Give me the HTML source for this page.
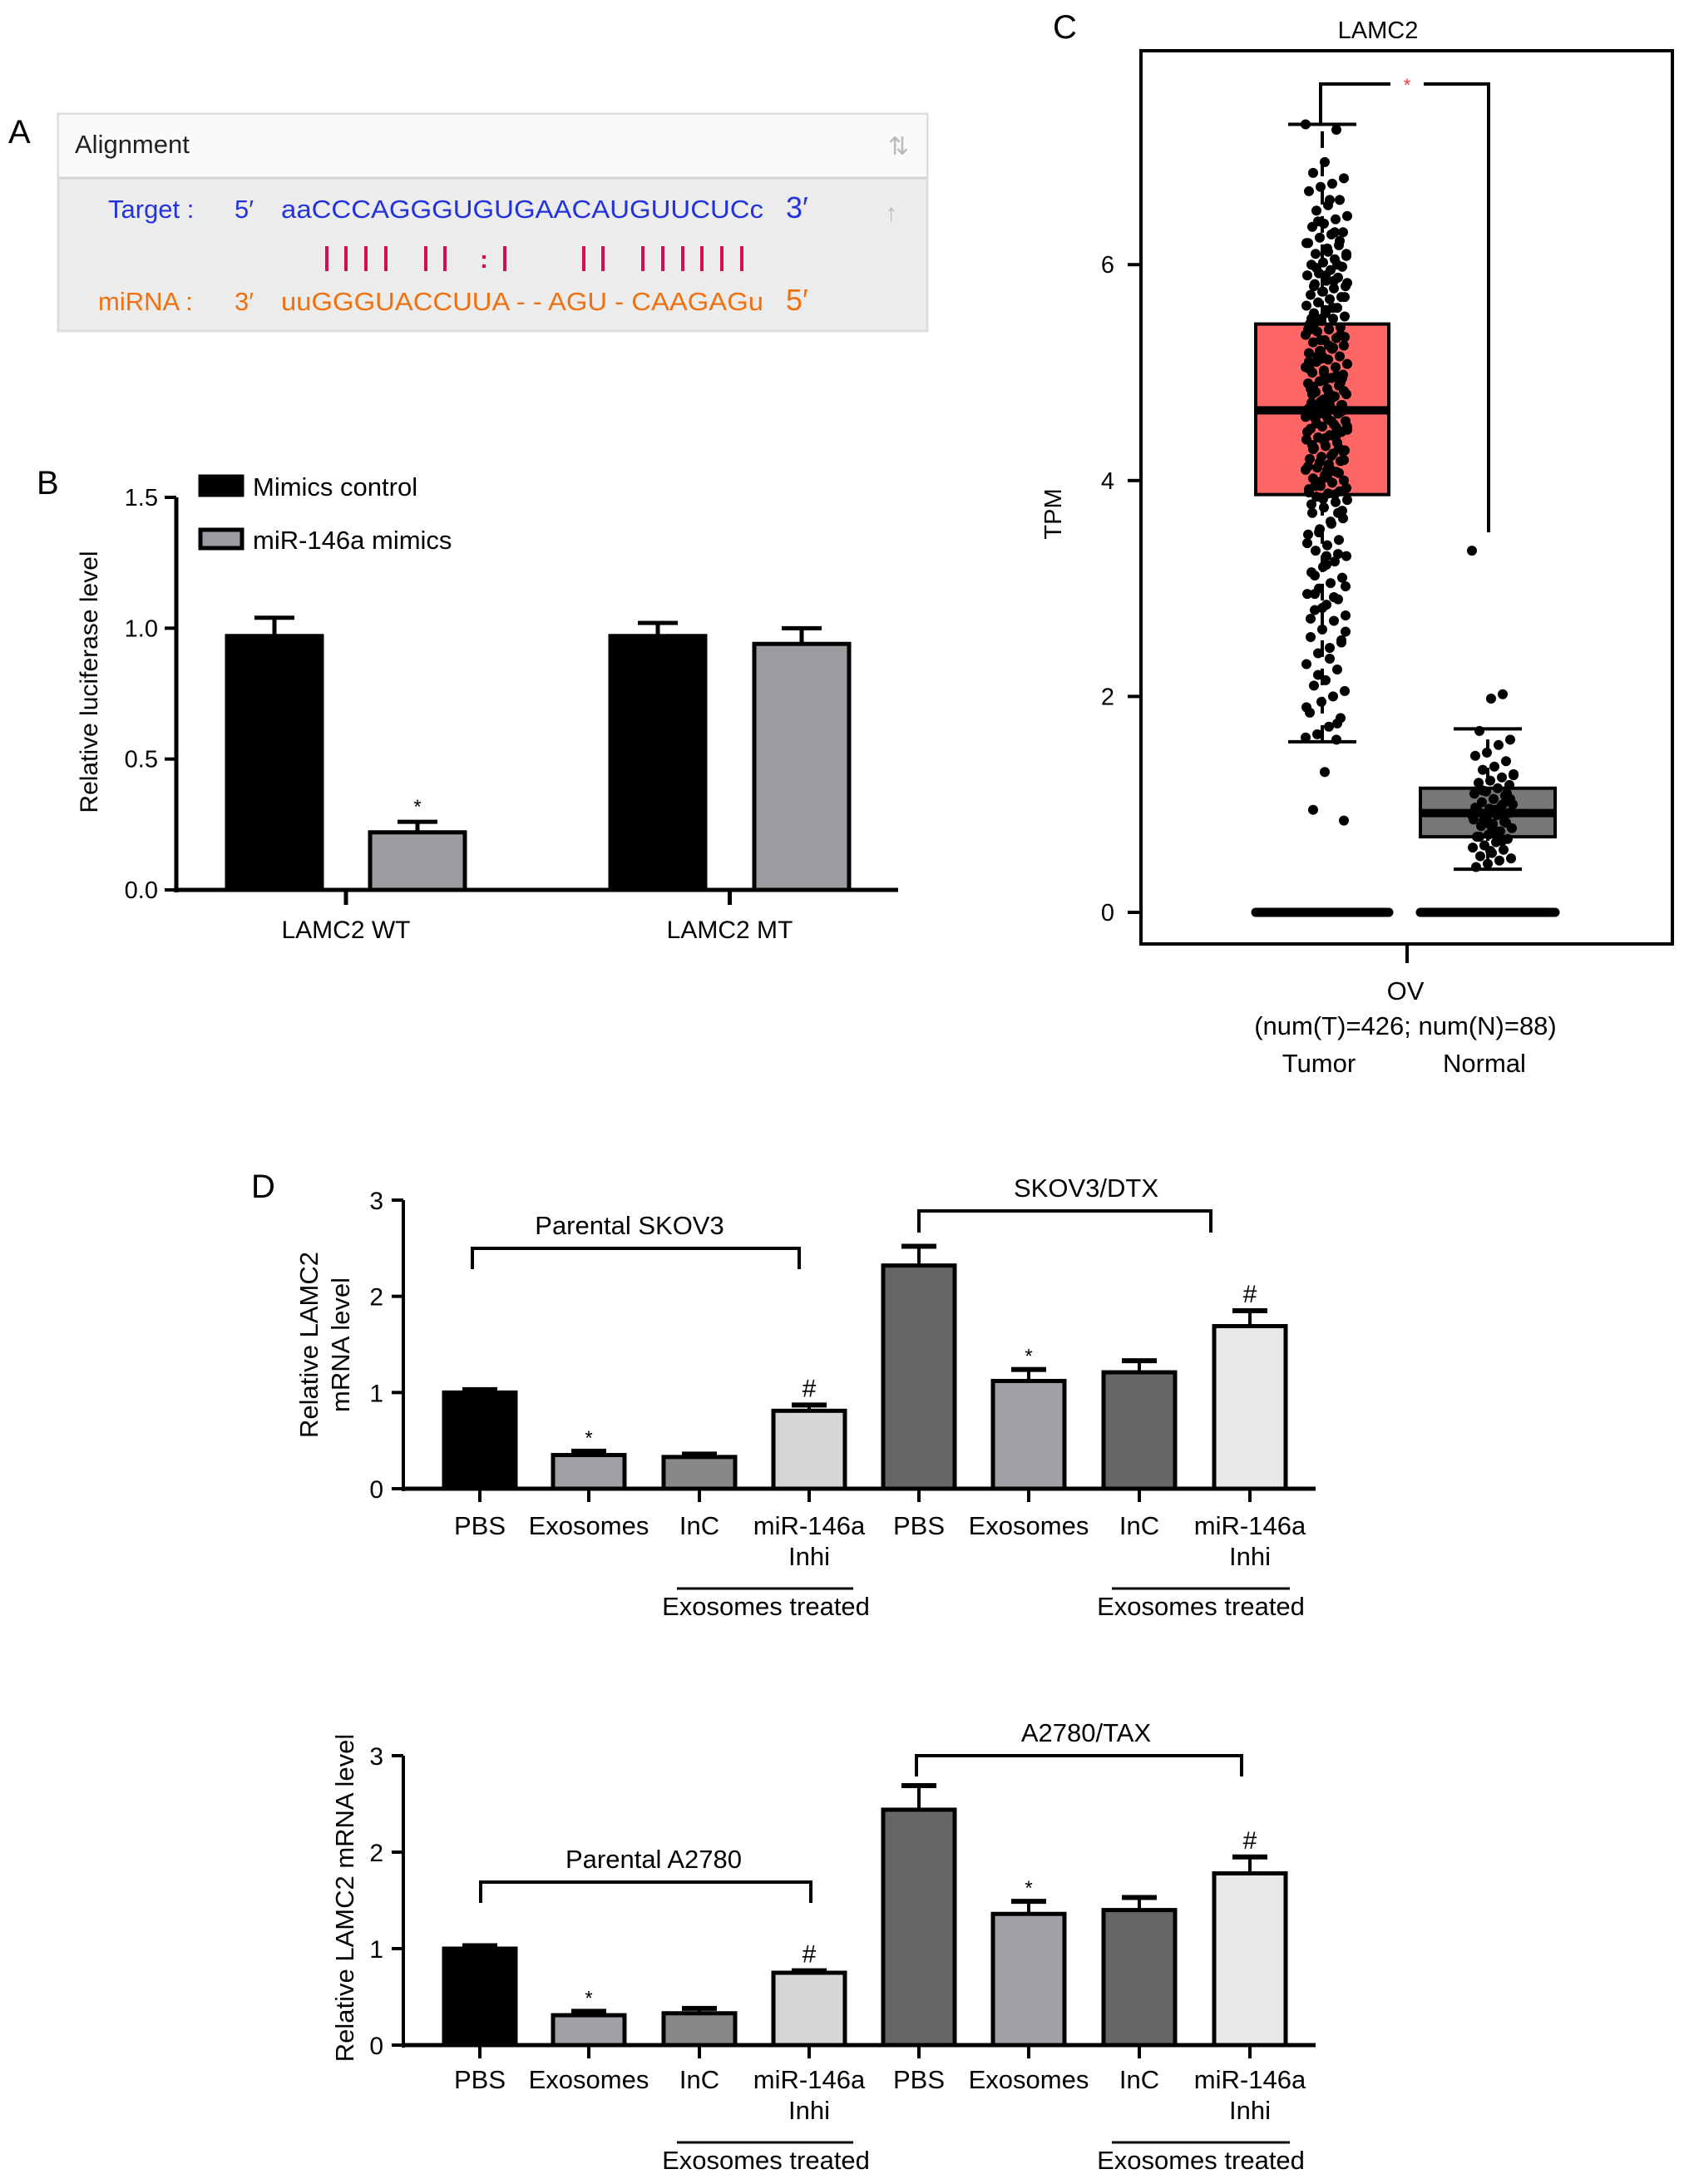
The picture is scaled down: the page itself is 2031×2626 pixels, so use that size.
<!DOCTYPE html>
<html><head><meta charset="utf-8"><style>
html,body{margin:0;padding:0;background:#fff;}
svg{display:block;font-family:"Liberation Sans",Arial,sans-serif;}
</style></head><body>
<svg id="fig" width="2031" height="2626" viewBox="0 0 2031 2626" xmlns="http://www.w3.org/2000/svg">
<g>
<text x="10" y="172" font-size="40">A</text>
<rect x="70" y="137" width="1045" height="261" fill="#ececec" stroke="#dcdcdc" stroke-width="3"/>
<rect x="71" y="138" width="1043" height="76" fill="#fafafa"/>
<line x1="71" y1="214" x2="1114" y2="214" stroke="#d4d4d4" stroke-width="3"/>
<text x="90" y="184" font-size="31" fill="#222">Alignment</text>
<text x="1068" y="186" font-size="30" fill="#bbb">⇅</text>
<text x="1064" y="266" font-size="30" fill="#bbb">↑</text>
<text x="130" y="262" font-size="31" fill="#2233dd">Target :</text>
<text x="282" y="262" font-size="31" fill="#2233dd">5′</text>
<text x="338" y="262" font-size="31" fill="#2233dd" textLength="580" lengthAdjust="spacingAndGlyphs">aaCCCAGGGUGUGAACAUGUUCUCc</text>
<text x="945" y="262" font-size="36" fill="#2233dd">3′</text>
<g stroke="#d0104a" stroke-width="4">
<line x1="393" y1="296" x2="393" y2="326"/><line x1="416" y1="296" x2="416" y2="326"/><line x1="440" y1="296" x2="440" y2="326"/><line x1="464" y1="296" x2="464" y2="326"/>
<line x1="512" y1="296" x2="512" y2="326"/><line x1="535" y1="296" x2="535" y2="326"/><line x1="607" y1="296" x2="607" y2="326"/>
<line x1="702" y1="296" x2="702" y2="326"/><line x1="725" y1="296" x2="725" y2="326"/>
<line x1="773" y1="296" x2="773" y2="326"/><line x1="797" y1="296" x2="797" y2="326"/><line x1="821" y1="296" x2="821" y2="326"/><line x1="844" y1="296" x2="844" y2="326"/><line x1="868" y1="296" x2="868" y2="326"/><line x1="892" y1="296" x2="892" y2="326"/>
</g>
<text x="577" y="322" font-size="30" fill="#d0104a" font-weight="bold">:</text>
<text x="118" y="373" font-size="31" fill="#f07010">miRNA :</text>
<text x="282" y="373" font-size="31" fill="#f07010">3′</text>
<text x="338" y="373" font-size="31" fill="#f07010" textLength="580" lengthAdjust="spacingAndGlyphs">uuGGGUACCUUA - - AGU - CAAGAGu</text>
<text x="945" y="373" font-size="36" fill="#f07010">5′</text>
</g>
<g id="pb"></g>
<g id="pc"></g>
<g id="pd1"></g>
<g id="pd2"></g>
</svg>
<script>
// ---- Panel B data ----
const bCategories = ["LAMC2 WT", "LAMC2 MT"];
const bSeriesNames = ["Mimics control", "miR-146a mimics"];
const bControl = [0.97, 0.97];
const bMimics = [0.22, 0.94];
const bControlErr = [0.07, 0.05];
const bMimicsErr = [0.04, 0.06];
const bTicks = ["0.0", "0.5", "1.0", "1.5"];
const bTickVals = [0, 0.5, 1.0, 1.5];
// ---- Panel C data ----
const cGroups = ["Tumor", "Normal"];
const cTicks = [0, 2, 4, 6];
const tumorStats = [1.58, 3.87, 4.65, 5.45, 7.3];
const normalStats = [0.4, 0.7, 0.92, 1.15, 1.7];
const tumorPoints = [7.3,7.25,6.95,6.85,6.8,6.75,6.72,6.68,6.6,6.55,6.5,6.45,6.42,6.38,6.35,6.3,6.28,6.25,6.2,6.18,6.15,6.1,6.08,6.05,6.02,6.0,5.98,5.95,5.92,5.9,5.88,5.85,5.82,5.8,5.78,5.75,5.72,5.7,5.68,5.65,5.62,5.6,5.58,5.55,5.52,5.5,5.48,5.45,5.42,5.4,5.38,5.35,5.32,5.3,5.28,5.25,5.22,5.2,5.18,5.15,5.12,5.1,5.08,5.05,5.02,5.0,4.98,4.95,4.92,4.9,4.88,4.85,4.82,4.8,4.78,4.75,4.72,4.7,4.68,4.66,4.64,4.62,4.6,4.58,4.55,4.52,4.5,4.48,4.45,4.42,4.4,4.38,4.35,4.32,4.3,4.28,4.25,4.22,4.2,4.18,4.15,4.12,4.1,4.08,4.05,4.02,4.0,3.98,3.95,3.92,3.9,3.88,3.85,3.82,3.8,3.75,3.7,3.65,3.6,3.55,3.5,3.45,3.4,3.35,3.3,3.25,3.2,3.15,3.1,3.05,3.0,2.95,2.9,2.85,2.8,2.75,2.7,2.62,2.55,2.5,2.45,2.4,2.3,2.25,2.15,2.1,2.05,2.0,1.95,1.85,1.8,1.72,1.65,1.62,1.6,1.3,0.95,0.85,
 5.6,5.3,5.1,4.9,4.7,4.6,4.5,4.4,5.0,4.8,4.65,4.55,5.2,5.4,4.3,4.1,3.95,6.1,6.3,5.75,5.5,4.95,4.75,4.62,4.45,3.7,3.3,2.95,2.6,5.85,5.15,4.85,4.7,
 6.6,6.4,6.2,6.0,5.9,5.8,5.7,5.6,5.5,5.4,5.35,5.25,5.15,5.05,4.97,4.93,4.87,4.83,4.77,4.73,4.67,4.63,4.57,4.53,4.47,4.43,4.37,4.33,4.27,4.23,4.17,4.13,4.07,4.03,3.97,3.93,3.87,3.83,3.78,3.72,3.62,3.52,3.42,3.32,3.22,3.12,3.02,2.92,2.82,2.72,2.52,2.35,2.2,1.9,1.75,
 5.55,5.45,5.33,5.23,5.13,5.03,4.91,4.81,4.69,4.59,4.49,4.39,4.29,4.19,4.09,3.99,3.89,6.22,6.12,5.97,5.83];
const normalPoints = [3.35,2.02,1.98,1.68,1.6,1.55,1.48,1.45,1.4,1.35,1.32,1.28,1.25,1.22,1.2,1.18,1.15,1.12,1.1,1.08,1.05,1.02,1.0,0.98,0.96,0.94,0.92,0.9,0.88,0.86,0.84,0.82,0.8,0.78,0.75,0.72,0.7,0.68,0.65,0.62,0.6,0.58,0.55,0.52,0.5,0.48,0.45,0.42,1.1,0.95,0.85,0.9,1.0,0.8,0.7,1.05,0.93,0.88,0.97,0.83,0.76,1.13,1.27,0.66,0.57];
// ---- Panel D data ----
const dCategories = ["PBS","Exosomes","InC","miR-146a","PBS","Exosomes","InC","miR-146a"];
const dSkov3 = [1.0, 0.35, 0.33, 0.81, 2.32, 1.12, 1.21, 1.69];
const dSkov3Err = [0.03, 0.04, 0.03, 0.06, 0.2, 0.12, 0.12, 0.16];
const dA2780 = [1.0, 0.31, 0.33, 0.75, 2.44, 1.36, 1.40, 1.78];
const dA2780Err = [0.03, 0.04, 0.05, 0.02, 0.25, 0.13, 0.13, 0.17];
const dMarks = ["", "*", "", "#", "", "*", "", "#"];
const dTicks = [0, 1, 2, 3];

const NS = "http://www.w3.org/2000/svg";
function mk(parent, tag, attrs, txt){ const e=document.createElementNS(NS,tag); for(const k in attrs) e.setAttribute(k,attrs[k]); if(txt!==undefined) e.textContent=txt; parent.appendChild(e); return e; }

// ===== Panel B =====
(function(){
  const g = document.getElementById('pb');
  const x0=212, x1=1080, y0=1070, yTop=598;
  const ys = v => y0 - v/1.5*(y0-yTop);
  let t = mk(g,'text',{x:44,y:594,'font-size':40},'B');
   
  mk(g,'line',{x1:x0,y1:yTop,x2:x0,y2:y0+3,stroke:'#000','stroke-width':5});
  mk(g,'line',{x1:x0-3,y1:y0,x2:x1,y2:y0,stroke:'#000','stroke-width':5});
  bTickVals.forEach((v,i)=>{
    mk(g,'line',{x1:x0-14,y1:ys(v),x2:x0,y2:ys(v),stroke:'#000','stroke-width':4});
    const tl = mk(g,'text',{x:x0-22,y:ys(v)+10,'font-size':29,'text-anchor':'end'},bTicks[i]);
     
  });
  const yt = mk(g,'text',{x:0,y:0,'font-size':30,'text-anchor':'middle',transform:'translate(117,820) rotate(-90)'},'Relative luciferase level');
   
  const centers=[[330,502],[791,964]]; const w=114;
  bCategories.forEach((c,i)=>{
    [[bControl,bControlErr,'#000'],[bMimics,bMimicsErr,'#9b9ba0']].forEach((s,j)=>{
      const cx=centers[i][j], v=s[0][i], e=s[1][i];
      mk(g,'line',{x1:cx,y1:ys(v),x2:cx,y2:ys(v+e),stroke:'#000','stroke-width':5});
      mk(g,'line',{x1:cx-24,y1:ys(v+e),x2:cx+24,y2:ys(v+e),stroke:'#000','stroke-width':5});
      const r = mk(g,'rect',{x:cx-w/2,y:ys(v),width:w,height:y0-ys(v),fill:s[2],stroke:'#000','stroke-width':5});
       
    });
    const cx=(centers[i][0]+centers[i][1])/2;
    mk(g,'line',{x1:cx,y1:y0,x2:cx,y2:y0+18,stroke:'#000','stroke-width':5});
    const cl = mk(g,'text',{x:cx,y:1128,'font-size':30,'text-anchor':'middle'},c);
     
  });
  mk(g,'text',{x:502,y:ys(bMimics[0]+bMimicsErr[0])-10,'font-size':24,'text-anchor':'middle'},'*');
  bSeriesNames.forEach((n,i)=>{
    const yy = 573 + i*64;
    const sw = mk(g,'rect',{x:241,y:yy,width:50,height:22,fill:i?'#9b9ba0':'#000',stroke:'#000','stroke-width':5});
     
    const lt = mk(g,'text',{x:304,y:yy+23,'font-size':31},n);
     
  });
})();

// ===== Panel C =====
(function(){
  const g=document.getElementById('pc');
  const y0=1097, unit=129.8; const ys=v=>y0-v*unit;
  let t=mk(g,'text',{x:1266,y:46,'font-size':40},'C');
   
  const ti=mk(g,'text',{x:1657,y:46,'font-size':29,'text-anchor':'middle'},'LAMC2');
   
  mk(g,'rect',{x:1372,y:61,width:639,height:1074,fill:'none',stroke:'#000','stroke-width':4});
  cTicks.forEach(v=>{
    mk(g,'line',{x1:1356,y1:ys(v),x2:1372,y2:ys(v),stroke:'#000','stroke-width':4});
    const tl=mk(g,'text',{x:1340,y:ys(v)+10,'font-size':29,'text-anchor':'end'},String(v));
     
  });
  const yt=mk(g,'text',{x:0,y:0,'font-size':29,'text-anchor':'middle',transform:'translate(1276,618) rotate(-90)'},'TPM');
   
  const boxes=[[tumorStats,1510,1670,'#ff6666',tumorPoints,1595],[normalStats,1708,1870,'#777',normalPoints,1795]];
  boxes.forEach((b,i)=>{
    const s=b[0], xl=b[1], xr=b[2], cx=(xl+xr)/2;
    mk(g,'line',{x1:xl,y1:y0,x2:xr,y2:y0,stroke:'#000','stroke-width':11,'stroke-linecap':'round'});
    mk(g,'line',{x1:cx,y1:ys(s[0]),x2:cx,y2:ys(s[4]),stroke:'#000','stroke-width':4,'stroke-dasharray':'20 14'});
    mk(g,'line',{x1:cx-41,y1:ys(s[0]),x2:cx+41,y2:ys(s[0]),stroke:'#000','stroke-width':4});
    mk(g,'line',{x1:cx-41,y1:ys(s[4]),x2:cx+41,y2:ys(s[4]),stroke:'#000','stroke-width':4});
    const r=mk(g,'rect',{x:xl,y:ys(s[3]),width:xr-xl,height:ys(s[1])-ys(s[3]),fill:b[3],stroke:'#000','stroke-width':4});
     
    mk(g,'line',{x1:xl,y1:ys(s[2]),x2:xr,y2:ys(s[2]),stroke:'#000','stroke-width':10});
    b[4].forEach((v,k)=>{
      const off=((k*37)%51)-25;
      const p=mk(g,'circle',{cx:b[5]+off,cy:ys(v),r:6,fill:'#000'});
       
    });
  });
  mk(g,'polyline',{points:`1588,150 1588,101 1790,101 1790,${ys(3.52)}`,fill:'none',stroke:'#000','stroke-width':4});
  mk(g,'rect',{x:1672,y:92,width:40,height:18,fill:'#fff'});
  mk(g,'text',{x:1692,y:110,'font-size':22,fill:'#ff3333','text-anchor':'middle'},'*');
  mk(g,'line',{x1:1692,y1:1135,x2:1692,y2:1158,stroke:'#000','stroke-width':4});
  const ov=mk(g,'text',{x:1690,y:1202,'font-size':31,'text-anchor':'middle'},'OV');
   
  mk(g,'text',{x:1690,y:1244,'font-size':31,'text-anchor':'middle'},'(num(T)=426; num(N)=88)');
  [1586,1785].forEach((x,i)=>{
    const gl=mk(g,'text',{x:x,y:1289,'font-size':31,'text-anchor':'middle'},cGroups[i]);
     
  });
})();

// ===== Panel D =====
function panelD(id, vals, errs, y0, y3, cfg){
  const g=document.getElementById(id);
  const x0=485, x1=1582; const unit=(y0-y3)/3; const ys=v=>y0-v*unit;
  const centers=[577,708,841,973,1105,1237,1370,1503]; const w=86;
  const fills=['#000','#a0a0a5','#888','#d6d6d6','#666','#a0a0a5','#666','#e8e8e8'];
  mk(g,'line',{x1:x0,y1:y3,x2:x0,y2:y0+3,stroke:'#000','stroke-width':4});
  mk(g,'line',{x1:x0-2,y1:y0,x2:x1,y2:y0,stroke:'#000','stroke-width':5});
  dTicks.forEach(v=>{
    mk(g,'line',{x1:x0-14,y1:ys(v),x2:x0,y2:ys(v),stroke:'#000','stroke-width':4});
    const tl=mk(g,'text',{x:x0-24,y:ys(v)+11,'font-size':30,'text-anchor':'end'},String(v));
     
  });
  vals.forEach((v,i)=>{
    const cx=centers[i], e=errs[i];
    mk(g,'line',{x1:cx,y1:ys(v),x2:cx,y2:ys(v+e),stroke:'#000','stroke-width':4});
    mk(g,'line',{x1:cx-21,y1:ys(v+e),x2:cx+21,y2:ys(v+e),stroke:'#000','stroke-width':6});
    const r=mk(g,'rect',{x:cx-w/2,y:ys(v),width:w,height:y0-ys(v),fill:fills[i],stroke:'#000','stroke-width':5});
     
    mk(g,'line',{x1:cx,y1:y0,x2:cx,y2:y0+16,stroke:'#000','stroke-width':4});
    if(dMarks[i]){ mk(g,'text',{x:cx,y:ys(v+e)-(dMarks[i]=='#'?10:8),'font-size':dMarks[i]=='#'?30:24,'text-anchor':'middle'},dMarks[i]); }
    const cl=mk(g,'text',{x:cx,y:cfg.ly,'font-size':31,'text-anchor':'middle'},dCategories[i]);
     
    if(dCategories[i]==='miR-146a') mk(g,'text',{x:cx,y:cfg.ly+37,'font-size':31,'text-anchor':'middle'},'Inhi');
  });
  [[814,1026,921],[1337,1551,1444]].forEach(u=>{
    mk(g,'line',{x1:u[0],y1:cfg.ly+65,x2:u[1],y2:cfg.ly+65,stroke:'#000','stroke-width':3});
    const et=mk(g,'text',{x:u[2],y:cfg.ly+97,'font-size':31,'text-anchor':'middle'},'Exosomes treated');
     
  });
  cfg.brackets.forEach(b=>{
    mk(g,'polyline',{points:`${b[0]},${b[3]} ${b[0]},${b[2]} ${b[1]},${b[2]} ${b[1]},${b[3]}`,fill:'none',stroke:'#000','stroke-width':4});
    const bt=mk(g,'text',{x:b[5],y:b[2]-b[6],'font-size':31,'text-anchor':'middle'},b[4]);
     
  });
  cfg.ytitle.forEach(l=>{
    const yt=mk(g,'text',{x:0,y:0,'font-size':31,'text-anchor':'middle',transform:`translate(${l[0]},${l[1]}) rotate(-90)`},l[2]);
     
  });
}
(function(){
  const t=mk(document.getElementById('pd1'),'text',{x:302,y:1440,'font-size':40},'D');
   
})();
panelD('pd1', dSkov3, dSkov3Err, 1790, 1443, {ly:1845,
  brackets:[[568,961,1501,1526,'Parental SKOV3',757,17],[1105,1456,1456,1482,'SKOV3/DTX',1306,17]],
  ytitle:[[382,1617,'Relative LAMC2'],[420,1617,'mRNA level']]});
panelD('pd2', dA2780, dA2780Err, 2459, 2111, {ly:2511,
  brackets:[[578,975,2263,2288,'Parental A2780',786,17],[1102,1493,2111,2136,'A2780/TAX',1306,17]],
  ytitle:[[425,2282,'Relative LAMC2 mRNA level']]});
</script>
</body></html>
